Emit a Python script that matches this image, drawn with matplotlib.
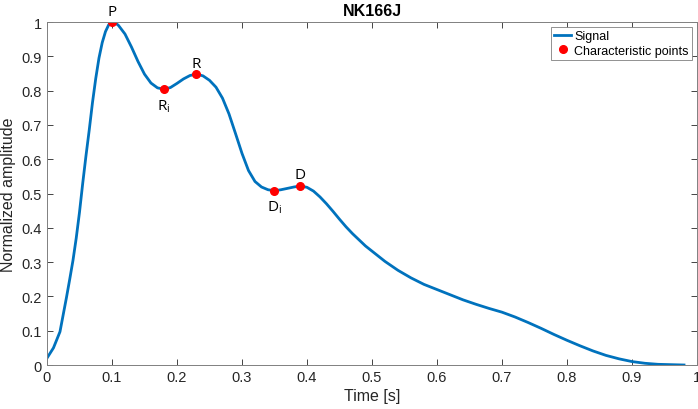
import numpy as np
import matplotlib
matplotlib.use("Agg")
import matplotlib.pyplot as plt

# signal
t = [0.00, 0.01, 0.02, 0.03, 0.035, 0.04, 0.045, 0.05, 0.055, 0.06, 0.065, 0.07,
     0.075, 0.08, 0.085, 0.09, 0.095, 0.10, 0.105, 0.11, 0.12, 0.13, 0.14, 0.15,
     0.16, 0.17, 0.18, 0.19, 0.20, 0.21, 0.22, 0.23, 0.24, 0.25, 0.26, 0.27, 0.28,
     0.29, 0.30, 0.31, 0.32, 0.33, 0.34, 0.35, 0.36, 0.37, 0.38, 0.39, 0.40, 0.41,
     0.42, 0.43, 0.44, 0.45, 0.46, 0.47, 0.48, 0.49, 0.50, 0.52, 0.54, 0.56, 0.58,
     0.60, 0.62, 0.64, 0.66, 0.68, 0.70, 0.72, 0.74, 0.76, 0.78, 0.80, 0.82, 0.84,
     0.86, 0.88, 0.90, 0.92, 0.94, 0.96, 0.98]
amp = [0.02, 0.05, 0.097, 0.197, 0.25, 0.305, 0.37, 0.445, 0.53, 0.61, 0.685, 0.765,
       0.835, 0.895, 0.94, 0.972, 0.992, 1.0, 0.998, 0.99, 0.965, 0.927, 0.885, 0.848,
       0.822, 0.808, 0.804, 0.809, 0.821, 0.834, 0.844, 0.848, 0.843, 0.83, 0.81, 0.778, 0.732,
       0.675, 0.617, 0.567, 0.535, 0.519, 0.511, 0.508, 0.511, 0.515, 0.519, 0.522, 0.518, 0.507,
       0.49, 0.47, 0.448, 0.425, 0.403, 0.383, 0.365, 0.347, 0.332, 0.302, 0.276, 0.254, 0.235,
       0.22, 0.205, 0.19, 0.177, 0.165, 0.154, 0.14, 0.124, 0.107, 0.089, 0.072, 0.056, 0.041,
       0.028, 0.018, 0.01, 0.005, 0.002, 0.001, 0.0]

pt_names = ["P", r"R$\mathregular{_i}$", "R", r"D$\mathregular{_i}$", "D"]
pt_t = [0.10, 0.18, 0.23, 0.35, 0.39]
pt_amp = [1.0, 0.804, 0.848, 0.508, 0.522]
pt_below = [False, True, False, True, False]

ticks = [0, 0.1, 0.2, 0.3, 0.4, 0.5, 0.6, 0.7, 0.8, 0.9, 1]
tick_labels = ["0", "0.1", "0.2", "0.3", "0.4", "0.5", "0.6", "0.7", "0.8", "0.9", "1"]

plt.rcParams['font.family'] = ['Liberation Sans', 'DejaVu Sans']
grey = '#262626'

fig = plt.figure(figsize=(6.98, 4.10), dpi=100)
ax = fig.add_axes([0.0673, 0.1073, 0.9313, 0.8366])

ax.plot(t, amp, color='#0072BD', lw=2, label='Signal', solid_joinstyle='round')
ax.plot(pt_t, pt_amp, 'o', color='red', ms=5.5, ls='none', label='Characteristic points')

for name, x, y, below in zip(pt_names, pt_t, pt_amp, pt_below):
    if below:
        ax.annotate(name, (x, y), xytext=(0, -6), textcoords='offset points',
                    ha='center', va='top', fontsize=11, family='Open Sans')
    else:
        ax.annotate(name, (x, y), xytext=(0, 2.5), textcoords='offset points',
                    ha='center', va='bottom', fontsize=11, family='Open Sans')

ax.set_xlim(0, 1)
ax.set_ylim(0, 1)
ax.set_xticks(ticks)
ax.set_xticklabels(tick_labels)
ax.set_yticks(ticks)
ax.set_yticklabels(tick_labels)
ax.tick_params(direction='in', top=True, right=True, labelsize=10.5,
               colors=grey, length=4, width=0.6)
for s in ax.spines.values():
    s.set_color('#808080')
    s.set_linewidth(0.7)

ax.set_xlabel('Time [s]', fontsize=11.5, color=grey, labelpad=3)
ax.set_ylabel('Normalized amplitude', fontsize=11.5, color=grey, labelpad=4)
ax.set_title('NK166J', fontsize=11.5, fontweight='bold', color='black', pad=5)

leg = ax.legend(loc='upper right', fontsize=9, fancybox=False, framealpha=1,
                edgecolor='#808080', handlelength=1.3, handletextpad=0.3,
                borderpad=0.25, labelspacing=0.2, borderaxespad=0.4)
leg.get_frame().set_linewidth(0.6)

fig.savefig('out.png', dpi=100)
